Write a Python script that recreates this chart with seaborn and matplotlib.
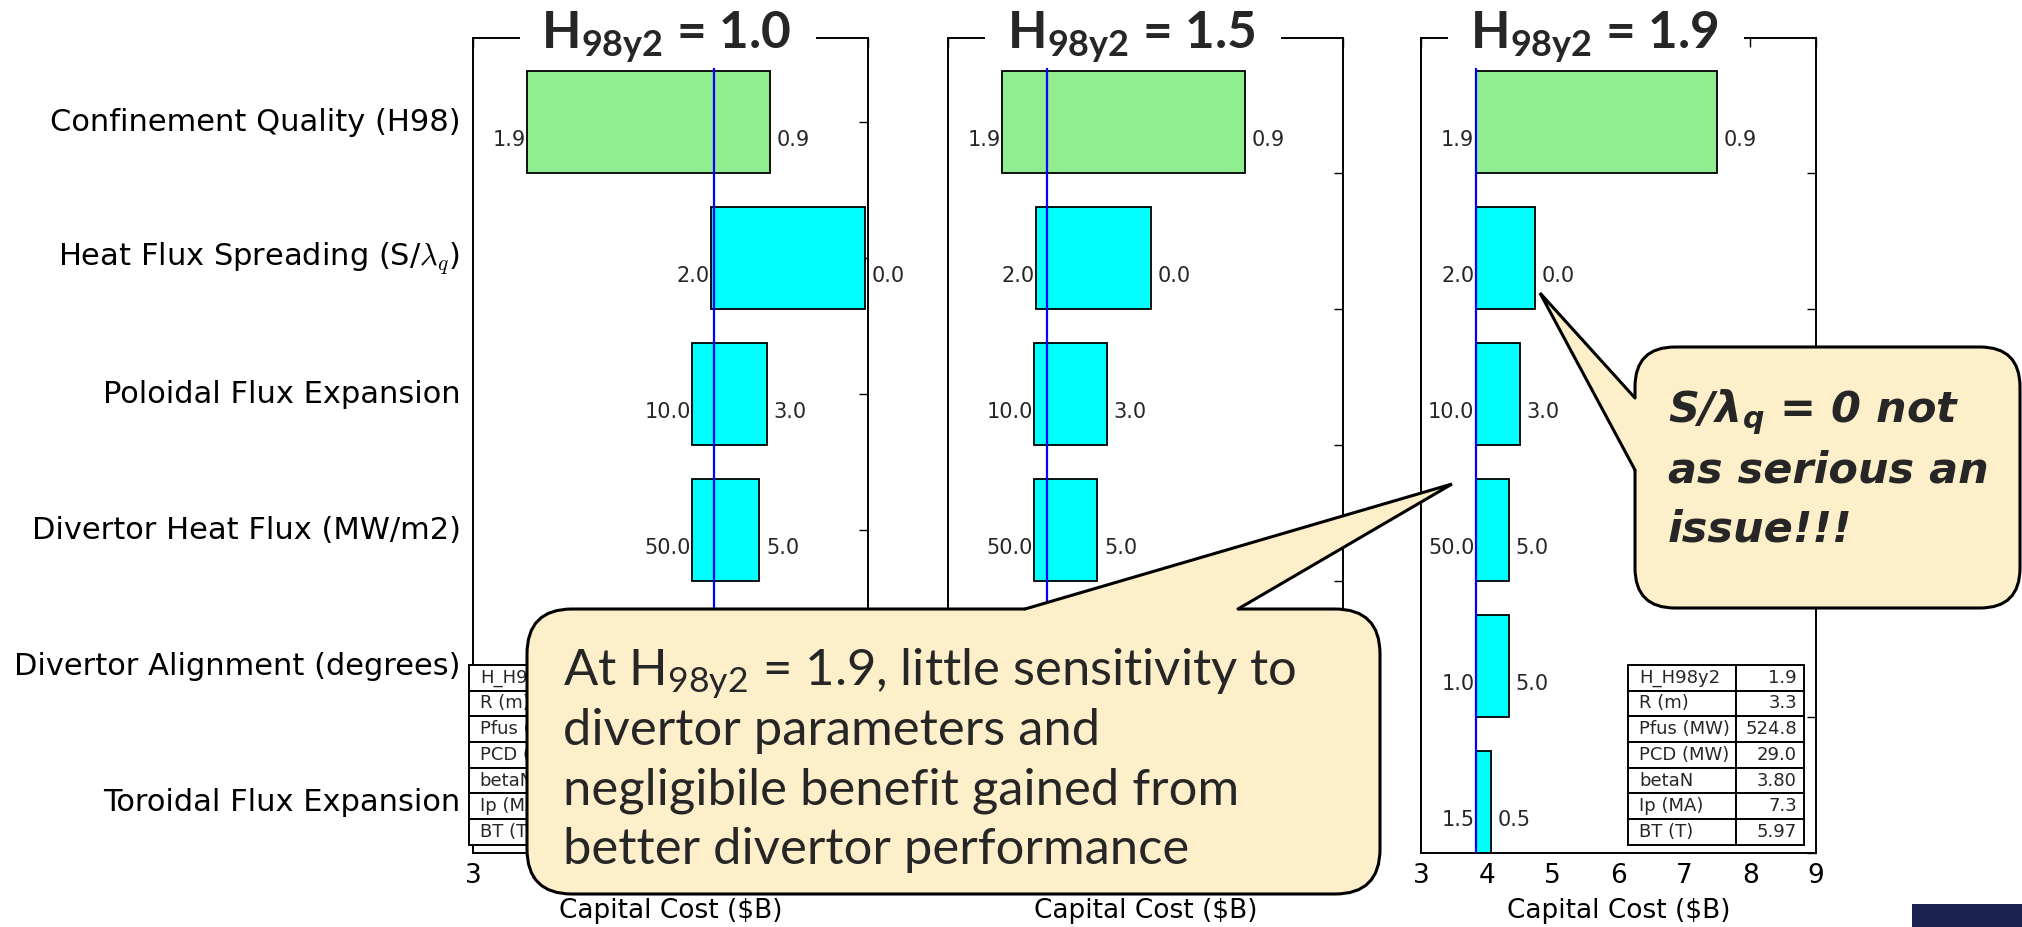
import numpy as np
import pandas as pd
import matplotlib
matplotlib.use("Agg")
import matplotlib.pyplot as plt
import seaborn as sns
from matplotlib.patches import FancyBboxPatch, Polygon, Rectangle
from matplotlib.table import Table

# ---------------- data ----------------
categories = ["Confinement Quality (H98)",
              r"Heat Flux Spreading (S/$\lambda_q$)",
              "Poloidal Flux Expansion",
              "Divertor Heat Flux (MW/m2)",
              "Divertor Alignment (degrees)",
              "Toroidal Flux Expansion"]
low_labels = ["1.9", "2.0", "10.0", "50.0", "1.0", "1.5"]
high_labels = ["0.9", "0.0", "3.0", "5.0", "5.0", "0.5"]
h98_values = ["1.0", "1.5", "1.9"]
baseline_cost = [6.66, 4.50, 3.83]
bar_start_h10 = [3.82, 6.61, 6.33, 6.33, 6.33, 6.45]
bar_end_h10 = [7.51, 8.96, 7.47, 7.35, 7.30, 6.95]
bar_start_h15 = [3.82, 4.33, 4.31, 4.31, 4.31, 4.40]
bar_end_h15 = [7.51, 6.09, 5.41, 5.27, 5.20, 4.75]
bar_start_h19 = [3.83, 3.83, 3.83, 3.83, 3.83, 3.83]
bar_end_h19 = [7.50, 4.73, 4.50, 4.33, 4.33, 4.07]
table_rows = ["H_H98y2", "R (m)", "Pfus (MW)", "PCD (MW)", "betaN", "Ip (MA)", "BT (T)"]
table_vals_h10 = ["1.0", "4.8", "1142.5", "67.3", "3.80", "11.6", "6.21"]
table_vals_h15 = ["1.5", "3.8", "745.6", "41.9", "3.80", "9.0", "6.05"]
table_vals_h19 = ["1.9", "3.3", "524.8", "29.0", "3.80", "7.3", "5.97"]
x_ticks = [3, 4, 5, 6, 7, 8, 9]

callout1_lines = [r"At H$\mathregular{_{98y2}}$ = 1.9, little sensitivity to",
                  "divertor parameters and",
                  "negligibile benefit gained from",
                  "better divertor performance"]
callout2_lines = [r"S/λ$\mathregular{_q}$ = 0 not", "as serious an", "issue!!!"]

starts = [bar_start_h10, bar_start_h15, bar_start_h19]
ends = [bar_end_h10, bar_end_h15, bar_end_h19]
tables = [table_vals_h10, table_vals_h15, table_vals_h19]

# ---------------- style ----------------
sns.set_theme(style="white")
plt.rcParams.update({
    "font.family": ["DejaVu Sans"],
    "mathtext.fontset": "cm",
    "xtick.direction": "in", "ytick.direction": "in",
    "xtick.top": True, "ytick.right": True,
    "xtick.major.size": 6.5, "ytick.major.size": 6.5,
    "xtick.major.width": 1.0, "ytick.major.width": 1.0,
    "xtick.color": "black", "ytick.color": "black",
    "axes.edgecolor": "black", "axes.linewidth": 1.4,
})

W, H = 2022, 927
fig = plt.figure(figsize=(W / 100, H / 100), dpi=100)
fig.patch.set_facecolor("white")

ax_lefts = [473, 948, 1421]
ax_w = 395
ax_top, ax_bot = 38.5, 853
table_x0 = [-0.01, -0.01, 0.525]

for k in range(3):
    l = ax_lefts[k]
    ax = fig.add_axes([l / W, 1 - ax_bot / H, ax_w / W, (ax_bot - ax_top) / H])
    st = np.array(starts[k]); en = np.array(ends[k])
    df = pd.DataFrame({"cat": categories, "length": en - st})
    sns.barplot(data=df, x="length", y="cat", orient="h", left=list(st),
                width=0.75, color="cyan", saturation=1, edgecolor="black",
                linewidth=1.3, errorbar=None, ax=ax, zorder=2)
    ax.patches[0].set_facecolor("lightgreen")
    ax.vlines(baseline_cost[k], -0.40, 5.5, color="blue", lw=1.6, zorder=3)
    ax.set_xlim(3, 9)
    ax.set_ylim(5.371, -0.614)
    ax.set_xticks(x_ticks)
    ax.set_xticklabels([str(t) for t in x_ticks], fontsize=19)
    ax.tick_params(axis="x", pad=7)
    ax.set_xlabel("Capital Cost ($B)", fontsize=19, labelpad=7, color="black")
    ax.set_ylabel("")
    if k == 0:
        ax.set_yticks(range(len(categories)))
        ax.set_yticklabels(categories, fontsize=22)
        ax.tick_params(axis="y", pad=9)
        for lab in ax.get_yticklabels():
            lab.set_va("center")
    else:
        ax.set_yticks([i + 0.375 for i in range(len(categories))])
        ax.set_yticklabels([])
    for sp in ax.spines.values():
        sp.set_visible(True)
        sp.set_color("black")
        sp.set_linewidth(1.4)
    for i in range(len(categories)):
        ax.text(st[i] - 0.02, i + 0.13, low_labels[i], ha="right", va="center",
                fontsize=15, zorder=4)
        ax.text(en[i] + 0.1, i + 0.13, high_labels[i], ha="left", va="center",
                fontsize=15, zorder=4)
    # parameter table
    tb = Table(ax, bbox=[table_x0[k], 0.01, 0.444, 0.221])
    nrow = len(table_rows)
    for r in range(nrow):
        c0 = tb.add_cell(r, 0, 0.614, 1.0 / nrow, text=table_rows[r], loc="left")
        c1 = tb.add_cell(r, 1, 0.386, 1.0 / nrow, text=tables[k][r], loc="right")
        for c in (c0, c1):
            c.set_linewidth(1.4)
            c.set_edgecolor("black")
            c.set_facecolor("white")
    tb.auto_set_font_size(False)
    tb.set_fontsize(13)
    tb.set_zorder(6)
    ax.add_table(tb)

# ---------------- slide overlay (titles, callouts) ----------------
ov = fig.add_axes([0, 0, 1, 1], zorder=10)
ov.set_xlim(0, W)
ov.set_ylim(H, 0)
ov.axis("off")
ov.patch.set_alpha(0)

cream = "#FEEFCB"
title_cx = [666, 1131, 1594]
for k in range(3):
    ov.add_patch(Rectangle((title_cx[k] - 146, 28), 296, 20, fc="white", ec="none", zorder=1))
    ov.text(title_cx[k], 48, r"$\mathregular{H_{98y2}}$ = " + h98_values[k], ha="center",
            va="baseline", fontsize=37, fontweight="bold", family="Lato", zorder=2)

def callout(x0, y0, w, h, r, b1, b2, tip, inward):
    ov.add_patch(FancyBboxPatch((x0, y0), w, h, boxstyle=f"round,pad=0,rounding_size={r}",
                                fc=cream, ec="black", lw=2.2, zorder=3))
    pts = [b1, tip, b2, (b2[0] + inward[0], b2[1] + inward[1]),
           (b1[0] + inward[0], b1[1] + inward[1])]
    ov.add_patch(Polygon(pts, closed=True, fc=cream, ec="none", zorder=4))
    ov.plot([b1[0], tip[0], b2[0]], [b1[1], tip[1], b2[1]], color="black", lw=2.2,
            solid_joinstyle="miter", zorder=5)

callout(527, 609, 853, 285, 45, (1025, 609), (1238, 609), (1452, 484), (0, 7))
callout(1635, 347, 385, 261, 40, (1635, 398), (1635, 470), (1540, 293), (7, 0))

for i, line in enumerate(callout1_lines):
    ov.text(563, 685 + 59.7 * i, line, ha="left", va="baseline", fontsize=36.5,
            family="Lato", zorder=6)
for i, line in enumerate(callout2_lines):
    ov.text(1668, 422 + 60 * i, line, ha="left", va="baseline", fontsize=31,
            family="DejaVu Sans", fontweight="bold", fontstyle="oblique", zorder=6)

ov.add_patch(Rectangle((1912, 904), 110, 23, fc="#1B2150", ec="none", zorder=6))

fig.savefig("out.png", dpi=100, facecolor="white")
